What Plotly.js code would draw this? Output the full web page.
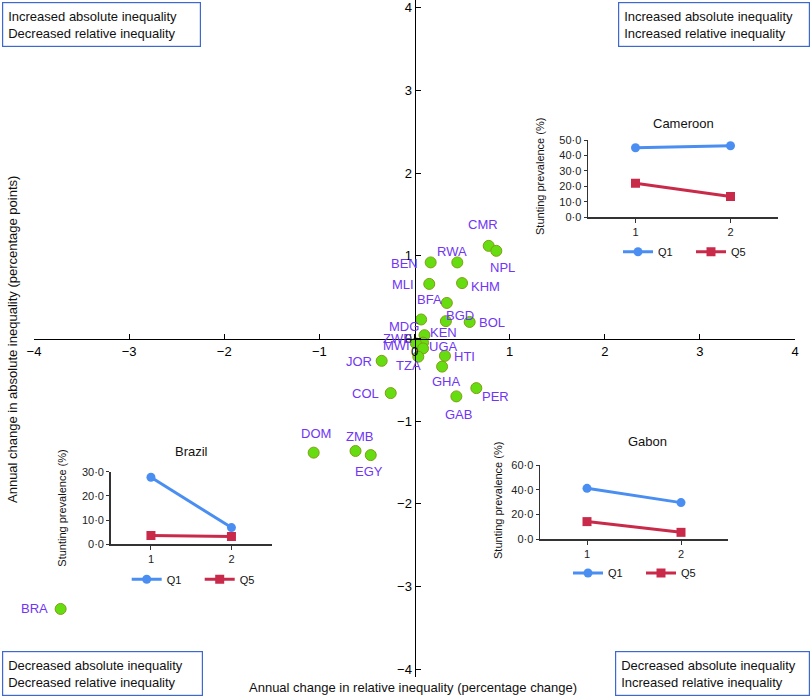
<!DOCTYPE html>
<html>
<head>
<meta charset="utf-8">
<script src="https://cdn.plot.ly/plotly-3.0.1.min.js"></script>
<style>html,body{margin:0;padding:0;background:#fff;}#chart{width:812px;height:699px;}</style>
</head>
<body>
<div id="chart"></div>
<script>
// ---- Data ----
const countries = ["CMR","NPL","RWA","BEN","MLI","KHM","BFA","BGD","BOL","MDG","KEN","ZWE","MWI","UGA","TZA","HTI","JOR","GHA","COL","PER","GAB","DOM","ZMB","EGY","BRA"];
const relChange = [0.78,0.86,0.45,0.17,0.155,0.50,0.34,0.33,0.58,0.07,0.105,0.09,0.015,0.09,0.04,0.32,-0.345,0.29,-0.25,0.65,0.44,-1.06,-0.62,-0.46,-3.72];
const absChange = [1.12,1.06,0.92,0.92,0.66,0.67,0.43,0.21,0.20,0.23,0.04,-0.05,-0.06,-0.12,-0.22,-0.21,-0.27,-0.34,-0.66,-0.60,-0.70,-1.38,-1.36,-1.41,-3.27];

const surveyRounds = [1, 2];
const cameroonQ1 = [45.0, 46.3];
const cameroonQ5 = [22.0, 13.4];
const brazilQ1 = [27.7, 6.9];
const brazilQ5 = [3.6, 3.2];
const gabonQ1 = [41.1, 29.5];
const gabonQ5 = [14.1, 5.4];

const mainTicks = [-4,-3,-2,-1,0,1,2,3,4];
const cameroonTicks = [0,10,20,30,40,50];
const brazilTicks = [0,10,20,30];
const gabonTicks = [0,20,40,60];
const quadrantTexts = [
  "Increased absolute inequality<br>Decreased relative inequality",
  "Increased absolute inequality<br>Increased relative inequality",
  "Decreased absolute inequality<br>Decreased relative inequality",
  "Decreased absolute inequality<br>Increased relative inequality"
];

// ---- Style / label placement (pixel offsets of labels from points) ----
const labelOffsets = {
  CMR:[-6,-21], NPL:[6,17], RWA:[-5,-11], BEN:[-26,1], MLI:[-26,1], KHM:[23,3],
  BFA:[-17,-3], BGD:[14,-6], BOL:[22,1], MDG:[-17,7], KEN:[19,-3], ZWE:[-26,-4],
  MWI:[-19,2], UGA:[20,-2], TZA:[-10,9], HTI:[20,1], JOR:[-23,1], GHA:[4,15],
  COL:[-25,0], PER:[19,8], GAB:[2,18], DOM:[2,-19], ZMB:[4,-14], EGY:[-2,16], BRA:[-26,0]
};
const FONT = "Arial, 'Liberation Sans', sans-serif";
const LABEL_COLOR = "#7035f5";
const Q1C = "#4a8ef2", Q5C = "#c92a4a";
const fmt = v => v.toFixed(1).replace(".", "·");

const traces = [{
  type: "scatter", mode: "markers", x: relChange, y: absChange, xaxis: "x", yaxis: "y",
  marker: {size: 11, color: "#66dd11", line: {color: "#7f9f12", width: 1}},
  showlegend: false, hoverinfo: "text", text: countries
}];

function inset(q1, q5, xa, ya, leg) {
  traces.push({type:"scatter", mode:"lines+markers", name:"Q1", x:surveyRounds, y:q1, xaxis:xa, yaxis:ya,
    line:{color:Q1C, width:3}, marker:{symbol:"circle", size:9, color:Q1C}, legend:leg, showlegend:true});
  traces.push({type:"scatter", mode:"lines+markers", name:"Q5", x:surveyRounds, y:q5, xaxis:xa, yaxis:ya,
    line:{color:Q5C, width:3}, marker:{symbol:"square", size:9, color:Q5C}, legend:leg, showlegend:true});
}
inset(cameroonQ1, cameroonQ5, "x2", "y2", "legend");
inset(brazilQ1, brazilQ5, "x3", "y3", "legend2");
inset(gabonQ1, gabonQ5, "x4", "y4", "legend3");

const W = 761, H = 677, L = 34, T = 0;
const px = v => (v - L) / W;
const py = v => (H - (v - T)) / H;

function insetX(d0, d1, anchor) {
  return {domain:[d0,d1], anchor:anchor, range:[0.5,2.5], tickvals:surveyRounds, ticktext:surveyRounds.map(String),
    showline:true, linecolor:"#333", linewidth:1.5, showgrid:false, zeroline:false,
    ticks:"outside", ticklen:4, tickcolor:"#333", tickfont:{family:FONT, size:11, color:"#222"}, fixedrange:true};
}
function insetY(d0, d1, anchor, ticks, top) {
  return {domain:[d0,d1], anchor:anchor, range:[0,top], tickvals:ticks, ticktext:ticks.map(fmt),
    showline:true, linecolor:"#333", linewidth:1.5, showgrid:false, zeroline:false,
    ticks:"outside", ticklen:3, tickcolor:"#333", tickfont:{family:FONT, size:11, color:"#222"}, fixedrange:true};
}

const annotations = countries.map((c, i) => ({
  x: relChange[i], y: absChange[i], xref:"x", yref:"y", text:c, showarrow:false,
  xanchor:"center", yanchor:"middle",
  xshift: labelOffsets[c][0], yshift: -labelOffsets[c][1],
  font:{family:FONT, size:13, color:LABEL_COLOR}
}));

// Quadrant boxes
const boxes = [
  {x:px(2), y:py(2), xa:"left", ya:"top", w:187},
  {x:px(810), y:py(2), xa:"right", ya:"top", w:180},
  {x:px(2), y:py(696), xa:"left", ya:"bottom", w:189},
  {x:px(810), y:py(696), xa:"right", ya:"bottom", w:183}
];
boxes.forEach((b, i) => annotations.push({
  x:b.x, y:b.y, xref:"paper", yref:"paper", xanchor:b.xa, yanchor:b.ya, text:quadrantTexts[i],
  showarrow:false, align:"left", bordercolor:"#3d68d0", borderwidth:1.2, borderpad:5, bgcolor:"#fff",
  width:b.w, height:33, font:{family:FONT, size:13, color:"#111"}
}));

function centerNote(text, x, y, size, angle) {
  annotations.push({x:px(x), y:py(y), xref:"paper", yref:"paper", xanchor:"center", yanchor:"middle",
    showarrow:false, text:text, textangle:angle || 0, font:{family:FONT, size:size, color:"#111"}});
}
// Axis titles
centerNote("Annual change in relative inequality (percentage change)", 413, 687, 13);
centerNote("Annual change in absolute inequality (percentage points)", 12, 340, 13, -90);
// Inset titles
centerNote("Cameroon", 683, 123, 13);
centerNote("Brazil", 191.7, 451.7, 13);
centerNote("Gabon", 647, 442, 13);
// Inset y titles
centerNote("Stunting prevalence (%)", 540, 177, 11, -90);
centerNote("Stunting prevalence (%)", 61.7, 508, 11, -90);
centerNote("Stunting prevalence (%)", 498, 501, 11, -90);

const legendBase = {orientation:"h", yanchor:"middle", xanchor:"left", bgcolor:"rgba(0,0,0,0)",
  font:{family:FONT, size:11, color:"#111"}, itemwidth:30, tracegroupgap:0, entrywidth:28, entrywidthmode:"pixels"};

const layout = {
  width:812, height:699, margin:{l:L, r:812-L-W, t:T, b:699-T-H},
  paper_bgcolor:"#fff", plot_bgcolor:"rgba(0,0,0,0)", font:{family:FONT},
  xaxis:{range:[-4,4], anchor:"free", position:0.5, tickvals:mainTicks, showline:true, linecolor:"#000", linewidth:1.5,
    ticks:"inside", ticklen:5, tickcolor:"#000", showgrid:false, zeroline:false, tickfont:{family:FONT, size:13, color:"#000"}, fixedrange:true},
  yaxis:{range:[-4.093,4.093], anchor:"free", position:0.5, tickvals:mainTicks, showline:true, linecolor:"#000", linewidth:1.5,
    ticks:"inside", ticklen:5, tickcolor:"#000", showgrid:false, zeroline:false, tickfont:{family:FONT, size:13, color:"#000"}, fixedrange:true},
  xaxis2: insetX(px(588), px(778), "y2"),
  yaxis2: insetY(py(217.3), py(140), "x2", cameroonTicks, 50),
  xaxis3: insetX(px(110.7), px(271.7), "y3"),
  yaxis3: insetY(py(544.3), py(471.7), "x3", brazilTicks, 30),
  xaxis4: insetX(px(540), px(728), "y4"),
  yaxis4: insetY(py(539), py(465), "x4", gabonTicks, 60),
  legend: Object.assign({}, legendBase, {x:px(618), y:py(251.7)}),
  legend2: Object.assign({}, legendBase, {x:px(126.7), y:py(579.3)}),
  legend3: Object.assign({}, legendBase, {x:px(568), y:py(573)}),
  annotations: annotations,
  showlegend: true
};

Plotly.newPlot("chart", traces, layout, {displayModeBar:false, staticPlot:true});
</script>
</body>
</html>
